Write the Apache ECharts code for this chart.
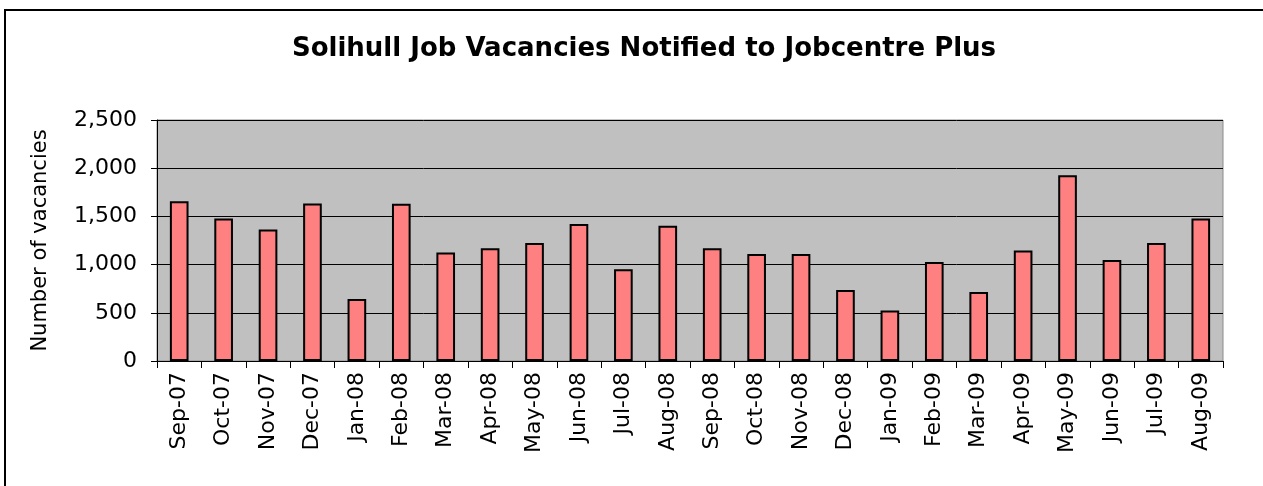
<!DOCTYPE html>
<html>
<head>
<meta charset="utf-8">
<script src="https://cdn.jsdelivr.net/npm/echarts@6/dist/echarts.min.js"></script>
<style>
  html, body { margin: 0; padding: 0; background: #fff; }
  #chart { width: 1263px; height: 486px; }
</style>
</head>
<body>
<div id="chart"></div>
<script>
// 月份
const months = ['Sep-07', 'Oct-07', 'Nov-07', 'Dec-07', 'Jan-08', 'Feb-08', 'Mar-08', 'Apr-08',
  'May-08', 'Jun-08', 'Jul-08', 'Aug-08', 'Sep-08', 'Oct-08', 'Nov-08', 'Dec-08',
  'Jan-09', 'Feb-09', 'Mar-09', 'Apr-09', 'May-09', 'Jun-09', 'Jul-09', 'Aug-09'];
// 空缺数量
const vacancies = [1658, 1479, 1364, 1634, 644, 1632, 1126, 1170,
  1225, 1420, 952, 1402, 1170, 1111, 1111, 737,
  523, 1028, 716, 1146, 1928, 1049, 1225, 1479];
const yTicks = [0, 500, 1000, 1500, 2000, 2500];

const textColor = '#000';
const fontFamily = 'DejaVu Sans';

let myChart = echarts.init(document.getElementById('chart'));
var option = {
  animation: false,
  textStyle: { fontFamily: fontFamily },
  graphic: [{
    type: 'rect',
    shape: { x: 5, y: 10, width: 1300, height: 520 },
    style: { fill: 'none', stroke: '#000', lineWidth: 2 }
  }],
  title: {
    text: 'Solihull Job Vacancies Notified to Jobcentre Plus',
    left: 639,
    top: 31,
    textAlign: 'center',
    textStyle: { fontFamily: fontFamily, fontWeight: 'bold', fontSize: 26, color: textColor }
  },
  grid: {
    left: 157,
    right: 40,
    top: 120,
    height: 241,
    show: true,
    backgroundColor: '#c0c0c0',
    borderColor: '#8c8c8c',
    borderWidth: 1
  },
  xAxis: {
    type: 'category',
    data: months,
    boundaryGap: true,
    axisLine: { lineStyle: { color: '#000', width: 1 } },
    axisTick: { show: true, alignWithLabel: false, length: 7, lineStyle: { color: '#000' } },
    axisLabel: {
      rotate: 90,
      margin: 11,
      interval: 0,
      fontSize: 22,
      color: textColor,
      fontFamily: fontFamily
    }
  },
  yAxis: {
    type: 'value',
    min: yTicks[0],
    max: yTicks[yTicks.length - 1],
    interval: 500,
    name: 'Number of vacancies',
    nameLocation: 'middle',
    nameGap: 106,
    nameTextStyle: { fontSize: 21, color: textColor, fontFamily: fontFamily },
    axisLine: { show: true, lineStyle: { color: '#000', width: 1 } },
    axisTick: { show: true, length: 6, lineStyle: { color: '#000' } },
    splitLine: { lineStyle: { color: '#000', width: 1 } },
    axisLabel: {
      margin: 20,
      fontSize: 22,
      color: textColor,
      fontFamily: fontFamily,
      formatter: function (v) {
        return v.toLocaleString('en-US');
      }
    }
  },
  series: [{
    name: 'Vacancies',
    type: 'bar',
    data: vacancies,
    barWidth: '42%',
    itemStyle: {
      color: '#ff8080',
      borderColor: '#000',
      borderWidth: 2
    }
  }]
};
myChart.setOption(option);
window.addEventListener('resize', function () {
  myChart.resize();
});
</script>
</body>
</html>
